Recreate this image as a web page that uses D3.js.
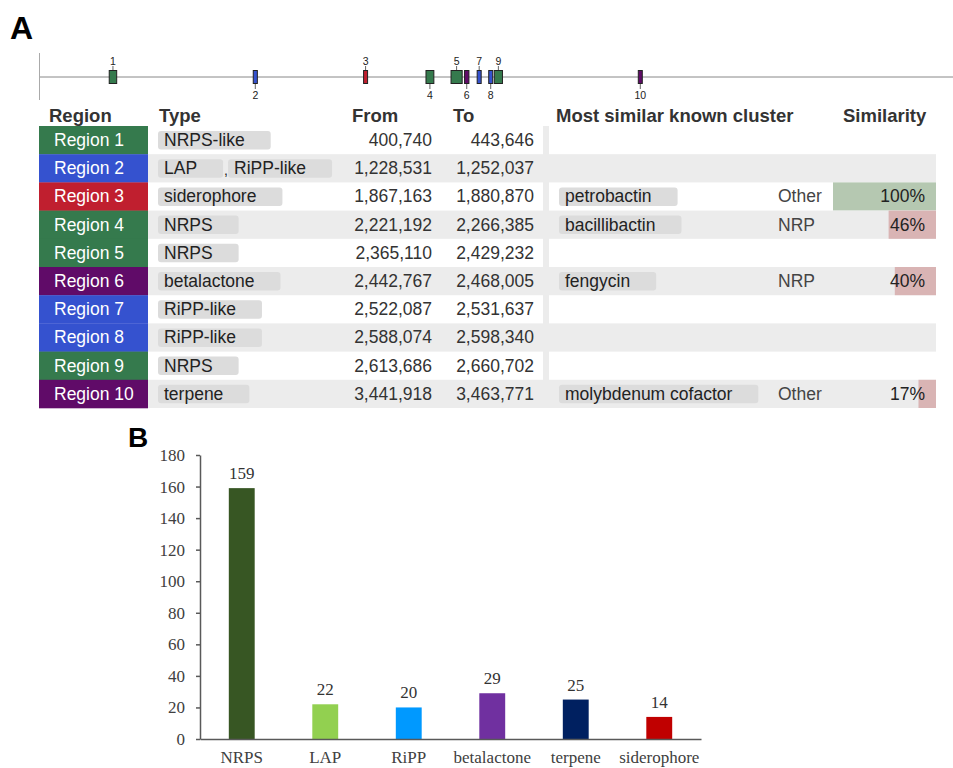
<!DOCTYPE html>
<html>
<head>
<meta charset="utf-8">
<script src="https://cdn.jsdelivr.net/npm/d3@7"></script>
<style>
  body { margin: 0; background: #fff; }
  svg { display: block; font-family: "Liberation Sans", Arial, sans-serif; }
</style>
</head>
<body>
<div id="chart-area"></div>
<script>
// ---- Panel A data: antiSMASH regions ----
const regionNames = ["Region 1", "Region 2", "Region 3", "Region 4", "Region 5",
  "Region 6", "Region 7", "Region 8", "Region 9", "Region 10"];
const regionTypes = [["NRPS-like"], ["LAP", "RiPP-like"], ["siderophore"], ["NRPS"], ["NRPS"],
  ["betalactone"], ["RiPP-like"], ["RiPP-like"], ["NRPS"], ["terpene"]];
const regionFrom = [400740, 1228531, 1867163, 2221192, 2365110, 2442767, 2522087, 2588074, 2613686, 3441918];
const regionTo = [443646, 1252037, 1880870, 2266385, 2429232, 2468005, 2531637, 2598340, 2660702, 3463771];
const knownClusters = ["", "", "petrobactin", "bacillibactin", "", "fengycin", "", "", "", "molybdenum cofactor"];
const knownClusterTypes = ["", "", "Other", "NRP", "", "NRP", "", "", "", "Other"];
const similarity = [null, null, 100, 46, null, 40, null, null, null, 17];
const genomeLength = 5250000;

// ---- Panel B data: BGC counts ----
const bgcTypes = ["NRPS", "LAP", "RiPP", "betalactone", "terpene", "siderophore"];
const bgcCounts = [159, 22, 20, 29, 25, 14];
const bgcColors = ["#375623", "#92d050", "#0099ff", "#7030a0", "#002060", "#c00000"];
const yTickValues = [0, 20, 40, 60, 80, 100, 120, 140, 160, 180];

// colour of the region label by its first type
const typeColor = {
  "NRPS-like": "#357a4d", "NRPS": "#357a4d", "LAP": "#3552cf", "RiPP-like": "#3552cf",
  "siderophore": "#c01f2f", "betalactone": "#600b68", "terpene": "#600b68"
};

const width = 953, height = 768;
const bodySize = "17.5px";
const svg = d3.select("#chart-area").append("svg")
  .attr("width", width).attr("height", height);

// panel letters
svg.append("text").attr("x", 10).attr("y", 39).text("A")
  .style("font-size", "32px").style("font-weight", "bold").attr("fill", "#000");
svg.append("text").attr("x", 128).attr("y", 447).text("B")
  .style("font-size", "28px").style("font-weight", "bold").attr("fill", "#000");

// ---- Genome track ----
const gx = d3.scaleLinear().domain([0, genomeLength]).range([39.5, 953]);
const trackY = 77;
const track = svg.append("g").attr("id", "genome-track");
track.append("line").attr("x1", gx(0)).attr("x2", gx(genomeLength))
  .attr("y1", trackY).attr("y2", trackY).attr("stroke", "#888").attr("stroke-width", 1);
track.append("line").attr("x1", gx(0)).attr("x2", gx(0))
  .attr("y1", 53).attr("y2", 100).attr("stroke", "#aaa").attr("stroke-width", 1);

const markers = track.selectAll(".marker")
  .data(regionNames.map((d, i) => ({ name: d, i, from: regionFrom[i], to: regionTo[i], type: regionTypes[i][0] })))
  .join("g").attr("class", "marker");

markers.append("line")
  .attr("x1", d => (gx(d.from) + gx(d.to)) / 2)
  .attr("x2", d => (gx(d.from) + gx(d.to)) / 2)
  .attr("y1", d => d.i % 2 === 0 ? trackY - 11 : trackY + 7)
  .attr("y2", d => d.i % 2 === 0 ? trackY - 7 : trackY + 12)
  .attr("stroke", "#666");

markers.append("rect")
  .attr("x", d => {
    const w = Math.max(4, gx(d.to) - gx(d.from));
    return (gx(d.from) + gx(d.to)) / 2 - w / 2;
  })
  .attr("width", d => Math.max(4, gx(d.to) - gx(d.from)))
  .attr("y", trackY - 6.5).attr("height", 13)
  .attr("fill", d => typeColor[d.type])
  .attr("stroke", "#222").attr("stroke-width", 1);

markers.append("text")
  .attr("x", d => (gx(d.from) + gx(d.to)) / 2)
  .attr("y", d => d.i % 2 === 0 ? trackY - 12.5 : trackY + 22)
  .attr("text-anchor", "middle")
  .style("font-size", "10.5px").attr("fill", "#222")
  .text(d => d.i + 1);

// ---- Table ----
const rowTop = 126, rowH = 28.2, tableRight = 936;
const fmt = d3.format(",");
const table = svg.append("g").attr("id", "region-table");

const headers = [["Region", 49], ["Type", 159], ["From", 352], ["To", 453],
  ["Most similar known cluster", 556], ["Similarity", 843]];
table.selectAll(".hdr").data(headers).join("text")
  .attr("class", "hdr").attr("x", d => d[1]).attr("y", 122)
  .style("font-size", "18.5px").style("font-weight", "bold").attr("fill", "#333")
  .text(d => d[0]);

const rows = table.selectAll(".row")
  .data(regionNames.map((d, i) => i))
  .join("g").attr("class", "row")
  .attr("transform", i => `translate(0, ${rowTop + i * rowH})`);

rows.filter(i => i % 2 === 1).append("rect")
  .attr("x", 148).attr("width", tableRight - 148).attr("height", rowH)
  .attr("fill", "#ececec");

rows.append("rect").attr("x", 39).attr("width", 109).attr("height", rowH + 0.3)
  .attr("fill", i => typeColor[regionTypes[i][0]]);

rows.append("text").attr("x", 54).attr("y", rowH / 2 + 6)
  .style("font-size", bodySize).attr("fill", "#fff")
  .text(i => regionNames[i]);

// separator strip between the two halves of the table
table.append("rect").attr("x", 543).attr("y", rowTop).attr("width", 6)
  .attr("height", rowH * regionNames.length).attr("fill", "#ececec");

function badge(g, label, x) {
  const b = g.append("g");
  const r = b.append("rect").attr("x", x).attr("y", 5).attr("height", 18.5)
    .attr("rx", 3).attr("fill", "#dcdcdc");
  const t = b.append("text").attr("x", x + 6).attr("y", rowH / 2 + 6)
    .style("font-size", bodySize).attr("fill", "#222").text(label);
  const w = t.node().getComputedTextLength() + 32;
  r.attr("width", w);
  return x + w;
}

rows.each(function (i) {
  const g = d3.select(this);
  let x = 158;
  regionTypes[i].forEach((t, k) => {
    if (k > 0) {
      g.append("text").attr("x", x + 1).attr("y", rowH / 2 + 7)
        .style("font-size", "14px").attr("fill", "#222").text(",");
      x += 5;
    }
    x = badge(g, t, x);
  });
  if (knownClusters[i]) badge(g, knownClusters[i], 559);
});

rows.append("text").attr("x", 432).attr("y", rowH / 2 + 6).attr("text-anchor", "end")
  .style("font-size", bodySize).attr("fill", "#333").text(i => fmt(regionFrom[i]));
rows.append("text").attr("x", 534).attr("y", rowH / 2 + 6).attr("text-anchor", "end")
  .style("font-size", bodySize).attr("fill", "#333").text(i => fmt(regionTo[i]));

rows.append("text").attr("x", 778).attr("y", rowH / 2 + 6)
  .style("font-size", bodySize).attr("fill", "#444").text(i => knownClusterTypes[i]);

const simX = d3.scaleLinear().domain([0, 100]).range([0, tableRight - 833]);
const withSim = rows.filter(i => similarity[i] !== null);
withSim.append("rect")
  .attr("x", i => tableRight - simX(similarity[i]))
  .attr("width", i => simX(similarity[i]))
  .attr("height", rowH)
  .attr("fill", i => similarity[i] >= 75 ? "#b5c8b1" : "#d9b4b4");
withSim.append("text").attr("x", 925).attr("y", rowH / 2 + 6).attr("text-anchor", "end")
  .style("font-size", bodySize).attr("fill", "#222").text(i => similarity[i] + "%");

// ---- Panel B: bar chart ----
const bx = d3.scaleBand().domain(bgcTypes).range([200, 701])
  .paddingInner(0.69).paddingOuter(0.345);
const by = d3.scaleLinear().domain([0, 180]).range([739, 455]);
const chart = svg.append("g").attr("id", "bgc-chart")
  .style("font-family", "'Liberation Serif', 'Times New Roman', serif");

chart.selectAll(".bar").data(bgcTypes).join("rect")
  .attr("class", "bar")
  .attr("x", d => bx(d)).attr("width", bx.bandwidth())
  .attr("y", (d, i) => by(bgcCounts[i]))
  .attr("height", (d, i) => by(0) - by(bgcCounts[i]))
  .attr("fill", (d, i) => bgcColors[i]);

chart.selectAll(".val").data(bgcTypes).join("text")
  .attr("class", "val")
  .attr("x", d => bx(d) + bx.bandwidth() / 2)
  .attr("y", (d, i) => by(bgcCounts[i]) - 9)
  .attr("text-anchor", "middle")
  .style("font-size", "17px").attr("fill", "#333")
  .text((d, i) => bgcCounts[i]);

const yAxis = chart.append("g").attr("transform", "translate(200,0)")
  .call(d3.axisLeft(by).tickValues(yTickValues).tickSize(4).tickPadding(11).tickSizeOuter(0));
yAxis.select(".domain").attr("stroke", "#595959").attr("stroke-width", 1.5);
yAxis.selectAll(".tick line").attr("stroke", "#595959").attr("stroke-width", 1.5);
yAxis.selectAll("text").style("font-size", "17px").attr("fill", "#404040")
  .style("font-family", "'Liberation Serif', 'Times New Roman', serif");

const xAxis = chart.append("g").attr("transform", "translate(0,739)")
  .call(d3.axisBottom(bx).tickSize(0).tickPadding(12).tickSizeOuter(0));
xAxis.select(".domain").attr("stroke", "#595959").attr("stroke-width", 1.5);
xAxis.selectAll("text").style("font-size", "17px").attr("fill", "#404040")
  .style("font-family", "'Liberation Serif', 'Times New Roman', serif");
</script>
</body>
</html>
